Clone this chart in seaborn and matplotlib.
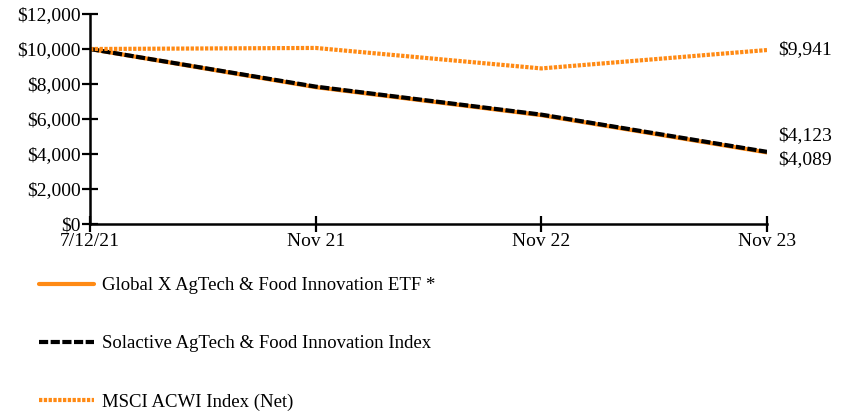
import pandas as pd
import matplotlib.pyplot as plt
import seaborn as sns
from matplotlib.ticker import FuncFormatter
from matplotlib.lines import Line2D

# --- Data (hypothetical $10,000 investment) ---
dates = ['7/12/21', 'Nov 21', 'Nov 22', 'Nov 23']
etf_values = [10000, 7820, 6220, 4089]
index_values = [10000, 7850, 6250, 4123]
msci_values = [10000, 10060, 8890, 9941]

etf_name = 'Global X AgTech & Food Innovation ETF *'
index_name = 'Solactive AgTech & Food Innovation Index'
msci_name = 'MSCI ACWI Index (Net)'

orange = '#FF8A14'

df = pd.DataFrame({
    'Date': dates * 3,
    'Value': etf_values + index_values + msci_values,
    'Series': [etf_name] * 4 + [index_name] * 4 + [msci_name] * 4,
})

sns.set_style('white')
plt.rcParams['font.family'] = ['Liberation Serif', 'DejaVu Serif']
plt.rcParams['text.color'] = 'black'

fig = plt.figure(figsize=(8.46, 4.12), dpi=100)
ax = fig.add_axes([90 / 846, 1 - 224 / 412, (767 - 90) / 846, (224 - 14) / 412])

styles = {
    etf_name: dict(color=orange, linestyle='-'),
    index_name: dict(color='black', dashes=(2.2, 0.6)),
    msci_name: dict(color=orange, dashes=(0.8, 0.35)),
}

for name in [etf_name, index_name, msci_name]:
    sub = df[df['Series'] == name]
    sns.lineplot(data=sub, x='Date', y='Value', ax=ax, lw=3, sort=False, legend=False,
                 **styles[name])

ax.set_xlim(0, 3)
ax.set_ylim(0, 12000)
ax.set_yticks(range(0, 12001, 2000))
ax.yaxis.set_major_formatter(FuncFormatter(lambda v, p: f'${v:,.0f}'))
ax.set_xlabel('')
ax.set_ylabel('')
for s in ['top', 'right']:
    ax.spines[s].set_visible(False)
for s in ['left', 'bottom']:
    ax.spines[s].set_color('black')
    ax.spines[s].set_linewidth(1.8)
ax.tick_params(axis='both', which='major', bottom=True, left=True, direction='inout',
               length=11.5, width=1.6, labelsize=14, colors='black')
ax.tick_params(axis='y', pad=1)
ax.tick_params(axis='x', pad=1)

# end labels
ax.annotate('$9,941', (3, msci_values[-1]), xytext=(8, 0), textcoords='offset points',
            va='center', fontsize=14, annotation_clip=False)
ax.annotate('$4,123', (3, index_values[-1]), xytext=(8, 12), textcoords='offset points',
            va='center', fontsize=14, annotation_clip=False)
ax.annotate('$4,089', (3, etf_values[-1]), xytext=(8, -5), textcoords='offset points',
            va='center', fontsize=14, annotation_clip=False)

handles = [
    Line2D([], [], color=orange, lw=3),
    Line2D([], [], color='black', lw=3, dashes=(2.2, 0.6)),
    Line2D([], [], color=orange, lw=3, dashes=(0.8, 0.35)),
]
fig.legend(handles, [etf_name, index_name, msci_name], loc='upper left',
           bbox_to_anchor=(39 / 846, 1 - 277 / 412), frameon=False, fontsize=13.5,
           handlelength=2.95, handletextpad=0.42, labelspacing=2.2, borderaxespad=0,
           borderpad=0)

fig.savefig('out.png', dpi=100)
